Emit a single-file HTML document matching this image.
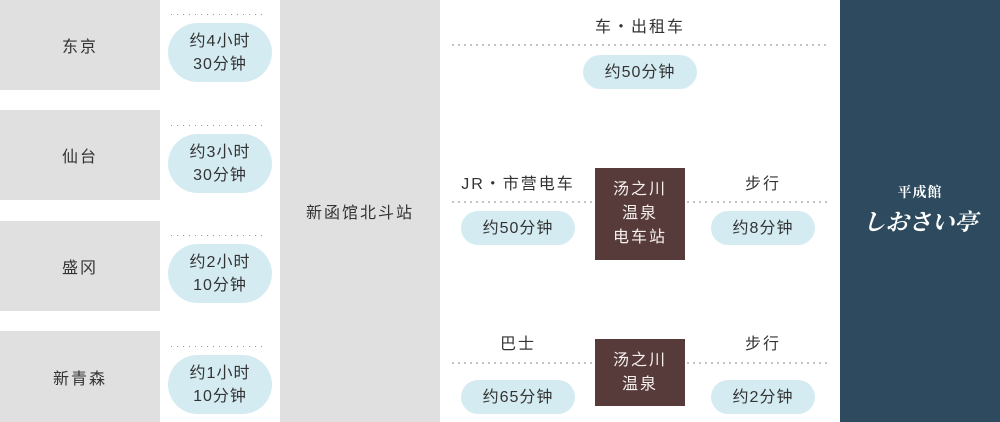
<!DOCTYPE html>
<html><head><meta charset="utf-8"><style>
*{margin:0;padding:0;box-sizing:border-box}
body{width:1000px;height:422px;background:#fff;position:relative;overflow:hidden;font-family:"Liberation Sans","Noto Sans CJK SC",sans-serif;color:#333}
.a{position:absolute}
.g{background:#e0e0e0}
.city{left:0;width:160px;height:90px;display:flex;align-items:center;justify-content:center;font-size:16px;letter-spacing:2px}
.dl{height:1px;background-image:linear-gradient(to right,#999 1px,transparent 1px);background-size:6px 1px}
.dr{height:2px;background-image:linear-gradient(to right,#c4c4c4 2px,transparent 2px);background-size:6px 2px}
.pill{background:#d5ebf2;display:flex;align-items:center;justify-content:center;text-align:center;font-size:16px;letter-spacing:1px;line-height:23px}
.p2{left:168px;width:104px;height:59px;border-radius:30px}
.ps{height:34px;border-radius:17px}
.lbl{font-size:16px;letter-spacing:2px;text-align:center;line-height:20px}
.br{background:#573b3b;color:#f6f0ee;display:flex;align-items:center;justify-content:center;text-align:center;font-size:16px;letter-spacing:2px;line-height:24px}
</style></head><body>
<div class="a city g" style="top:0">东京</div>
<div class="a city g" style="top:110px">仙台</div>
<div class="a city g" style="top:221px">盛冈</div>
<div class="a city g" style="top:331px;height:91px">新青森</div>

<div class="a dl" style="left:171px;width:94px;top:14px"></div>
<div class="a dl" style="left:171px;width:94px;top:125px"></div>
<div class="a dl" style="left:171px;width:94px;top:235px"></div>
<div class="a dl" style="left:171px;width:94px;top:346px"></div>
<div class="a pill p2" style="top:23px">约4小时<br>30分钟</div>
<div class="a pill p2" style="top:134px">约3小时<br>30分钟</div>
<div class="a pill p2" style="top:244px">约2小时<br>10分钟</div>
<div class="a pill p2" style="top:355px">约1小时<br>10分钟</div>

<div class="a g" style="left:280px;top:0;width:160px;height:422px;display:flex;align-items:center;justify-content:center;font-size:16px;letter-spacing:2px">新函馆北斗站</div>

<!-- row 1 -->
<div class="a lbl" style="left:540px;width:200px;top:18px">车・出租车</div>
<div class="a dr" style="left:452px;width:376px;top:44px"></div>
<div class="a pill ps" style="left:583px;width:114px;top:55px">约50分钟</div>

<!-- row 2 -->
<div class="a lbl" style="left:448px;width:140px;top:175px">JR・市营电车</div>
<div class="a dr" style="left:452px;width:142px;top:201px"></div>
<div class="a pill ps" style="left:461px;width:114px;top:211px">约50分钟</div>
<div class="a br" style="left:595px;top:168px;width:90px;height:92px">汤之川<br>温泉<br>电车站</div>
<div class="a dr" style="left:687px;width:141px;top:201px"></div>
<div class="a lbl" style="left:713px;width:100px;top:175px">步行</div>
<div class="a pill ps" style="left:711px;width:104px;top:211px">约8分钟</div>

<!-- row 3 -->
<div class="a lbl" style="left:448px;width:140px;top:335px">巴士</div>
<div class="a dr" style="left:452px;width:142px;top:362px"></div>
<div class="a pill ps" style="left:461px;width:114px;top:380px">约65分钟</div>
<div class="a br" style="left:595px;top:339px;width:90px;height:67px">汤之川<br>温泉</div>
<div class="a dr" style="left:687px;width:141px;top:362px"></div>
<div class="a lbl" style="left:713px;width:100px;top:335px">步行</div>
<div class="a pill ps" style="left:711px;width:104px;top:380px">约2分钟</div>

<!-- logo panel -->
<div class="a" style="left:840px;top:0;width:160px;height:422px;background:#2d4a5e"></div>
<div class="a" style="left:860px;width:120px;top:182px;text-align:center;color:#fff;font-family:'Noto Serif CJK SC',serif;font-weight:bold;font-size:14px;letter-spacing:1px;line-height:20px">平成館</div>
<div class="a" style="left:855px;width:130px;top:205px;text-align:center;color:#fff;font-family:'Noto Serif CJK SC',serif;font-weight:bold;font-size:23px;letter-spacing:0px;line-height:32px;font-style:italic">しおさい亭</div>
</body></html>
